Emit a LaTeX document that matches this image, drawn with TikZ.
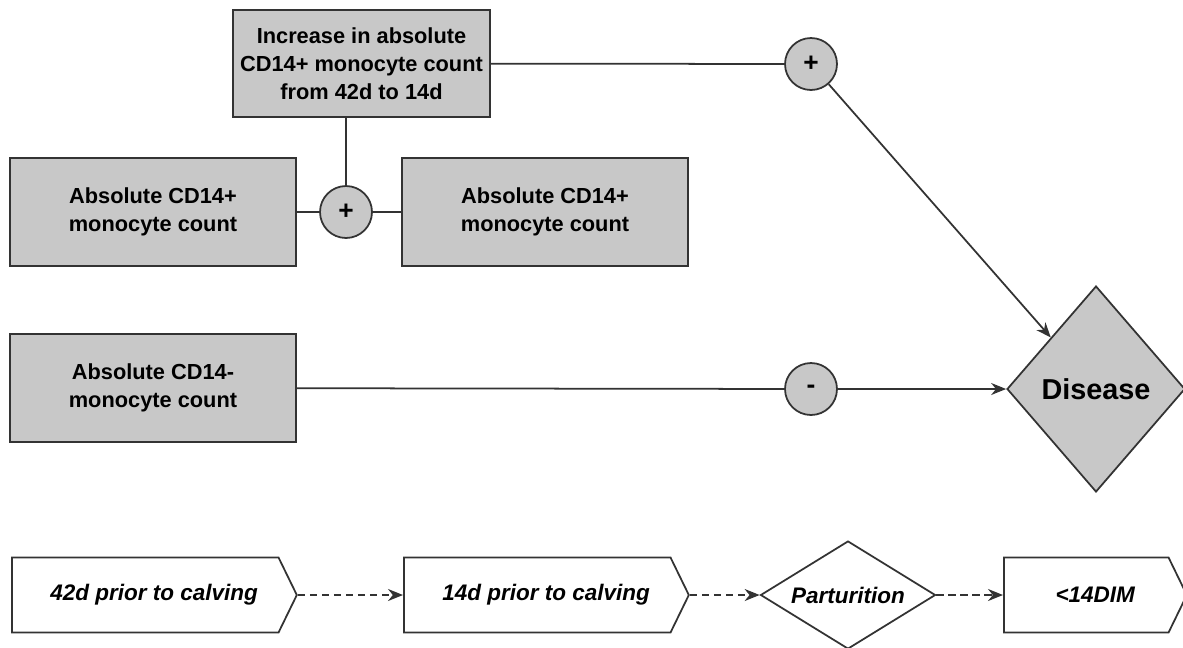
\documentclass[tikz,border=0pt]{standalone}
\usepackage{fontspec}
\setmainfont{Liberation Sans}
\usetikzlibrary{positioning,shapes.geometric,shapes.symbols,arrows.meta}
\definecolor{boxgray}{HTML}{C8C8C8}
\definecolor{linegray}{HTML}{333333}

\begin{document}
\begin{tikzpicture}[
  x=0.02cm, y=-0.02cm,
  every node/.style={font=\fontsize{12.4}{15.9}\selectfont\bfseries},
  countbox/.style={draw=linegray, fill=boxgray, line width=1pt, align=center,
    minimum width=5.72cm, minimum height=2.16cm},
  sign/.style={draw=linegray, fill=boxgray, circle, line width=1pt,
    minimum size=1.04cm, inner sep=0pt, font=\fontsize{15}{16}\selectfont\bfseries},
  timebox/.style={draw=linegray, fill=white, line width=1pt, signal, signal to=east,
    signal pointer angle=128, minimum width=5.7cm, minimum height=1.5cm, anchor=west,
    execute at begin node={\hspace*{0.36cm}},
    font=\fontsize{12.8}{15.8}\selectfont\bfseries\itshape},
  link/.style={draw=linegray, line width=1pt},
  arr/.style={link, -{Stealth[length=0.3cm, width=0.24cm]}},
  darr/.style={arr, dash pattern=on 0.15cm off 0.09cm}
  ]
  \useasboundingbox (0,0) rectangle (1183,647);

  % effect boxes
  \node [countbox, minimum width=5.14cm, minimum height=2.14cm] (incr) at (361.5,63.5)
    {Increase in absolute\\CD14+ monocyte count\\from 42d to 14d};
  \node [countbox] (absL) at (153,212) {Absolute CD14+\\monocyte count};
  \node [countbox] (absR) at (545,212) {Absolute CD14+\\monocyte count};
  \node [countbox] (absNeg) at (153,388) {Absolute CD14-\\monocyte count};

  \node [sign] (plusMid) at (346,212) {+};
  \node [sign] (plusTop) at (811,64) {+};
  \node [sign] (minus) at (811,389) {-};

  \node [diamond, draw=linegray, fill=boxgray, line width=1pt, inner sep=0pt,
    minimum width=3.56cm, minimum height=4.12cm,
    font=\fontsize{16.4}{19}\selectfont\bfseries] (disease) at (1096,389) {Disease};

  \draw [link] (absL) -- (plusMid) -- (absR);
  \draw [link] (incr.south -| plusMid) -- (plusMid);
  \draw [link] (incr) -- (plusTop);
  \draw [arr] (plusTop) -- (disease);
  \draw [link] (absNeg) -- (minus);
  \draw [arr] (minus) -- (disease);

  % timeline
  \node [timebox] (t42) at (11,595) {42d prior to calving};
  \node [timebox] (t14) at (403,595) {14d prior to calving};
  \node [diamond, draw=linegray, fill=white, line width=1pt, inner sep=0pt,
    shape aspect=1.6, minimum width=3.5cm, minimum height=2.16cm,
    font=\fontsize{12.8}{15.8}\selectfont\bfseries\itshape] (partur) at (848,595) {Parturition};
  \node [timebox, minimum width=3.66cm] (dim14) at (1003,595) {<14DIM};

  \draw [darr] (t42.east) -- (t14.west);
  \draw [darr] (t14.east) -- (partur.west);
  \draw [darr] (partur.east) -- (dim14.west);
\end{tikzpicture}
\end{document}
